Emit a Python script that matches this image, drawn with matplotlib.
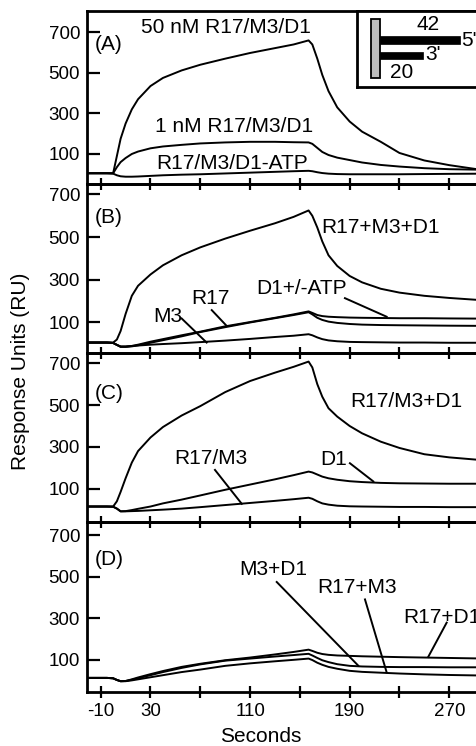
import matplotlib
matplotlib.use('Agg')
import matplotlib.pyplot as plt
from matplotlib.patches import Rectangle

plt.rcParams['font.family'] = ['Liberation Sans', 'DejaVu Sans']

# ---------------- data ----------------
time_s = [-21, -5, 0, 3, 6, 10, 15, 20, 30, 40, 55, 70, 90, 110, 130, 145, 157,
          160, 164, 168, 173, 180, 190, 200, 215, 230, 250, 270, 300]

# Panel A
a_50nM = [5, 5, 5, 90, 175, 250, 320, 370, 435, 475, 512, 540, 570, 598, 622, 640, 660,
          640, 570, 490, 410, 330, 260, 210, 160, 105, 68, 45, 18]
a_1nM = [5, 5, 5, 35, 60, 80, 100, 112, 128, 137, 145, 152, 157, 160, 160, 158, 157,
         150, 130, 110, 95, 82, 70, 58, 46, 38, 30, 25, 22]
a_noATP = [5, 5, 3, -5, -10, -12, -12, -11, -8, -5, -2, 0, 4, 8, 12, 15, 17,
           15, 10, 6, 3, 1, 0, 0, 0, 0, 1, 2, 3]

# Panel B
b_all = [6, 6, 6, 20, 60, 140, 225, 272, 325, 368, 415, 452, 493, 530, 565, 595, 625,
         600, 545, 480, 415, 365, 318, 288, 258, 240, 225, 215, 203]
b_D1 = [6, 6, 4, -5, -14, -14, -10, -4, 10, 22, 40, 57, 82, 102, 122, 138, 152,
        145, 135, 130, 127, 125, 123, 122, 121, 120, 120, 119, 118]
b_R17 = [6, 6, 4, -5, -14, -14, -12, -7, 5, 17, 35, 55, 78, 100, 120, 135, 148,
         138, 122, 112, 104, 98, 93, 90, 88, 87, 86, 85, 84]
b_M3 = [6, 6, 4, -5, -12, -12, -10, -8, -4, -1, 3, 8, 15, 23, 32, 38, 45,
        40, 30, 22, 16, 12, 9, 8, 7, 6, 6, 5, 5]

# Panel C
c_R17M3_D1 = [15, 15, 15, 40, 85, 150, 225, 280, 345, 395, 450, 495, 562, 615, 655, 683, 708,
              680, 600, 540, 485, 445, 400, 365, 325, 295, 265, 250, 235]
c_D1 = [15, 15, 14, 5, -8, -7, -2, 4, 15, 30, 48, 68, 95, 120, 145, 165, 182,
        178, 168, 158, 150, 143, 136, 132, 128, 126, 125, 124, 124]
c_R17M3 = [15, 15, 14, 5, -8, -8, -7, -6, -3, 0, 5, 12, 22, 32, 42, 50, 57,
           52, 40, 30, 24, 19, 16, 15, 14, 13, 13, 12, 12]

# Panel D
d_R17_D1 = [12, 12, 10, 2, -4, -3, 5, 14, 30, 45, 65, 80, 97, 110, 125, 137, 148,
            142, 133, 127, 123, 120, 118, 116, 114, 112, 110, 108, 105]
d_M3_D1 = [12, 12, 10, 2, -4, -3, 3, 10, 25, 40, 60, 77, 95, 105, 115, 122, 128,
           120, 108, 97, 88, 78, 70, 67, 65, 64, 64, 63, 63]
d_R17_M3 = [12, 12, 10, 2, -4, -4, 0, 5, 15, 25, 40, 52, 70, 82, 92, 99, 105,
            98, 85, 75, 65, 56, 46, 41, 37, 33, 29, 26, 23]

x_ticks = [-10, 30, 70, 110, 150, 190, 230, 270]
x_tick_labels = ['-10', '30', '', '110', '', '190', '', '270']
y_ticks = [100, 300, 500, 700]
y_tick_labels = ['100', '300', '500', '700']
panel_names = ['(A)', '(B)', '(C)', '(D)']
inset_lengths = ['42', '20']

# ---------------- layout ----------------
W, H = 476, 746
fig = plt.figure(figsize=(W / 100, H / 100), dpi=100)
left_px, right_px = 87, 486.6
panels_px = [(11, 184), (184, 353), (353, 522), (522, 692)]
ylims = [(-48, 805), (-43, 749), (-59, 749), (-56, 763)]

axes = []
for (top, bot), yl in zip(panels_px, ylims):
    ax = fig.add_axes([left_px / W, 1 - bot / H, (right_px - left_px) / W, (bot - top) / H])
    ax.set_xlim(-21, 300)
    ax.set_ylim(*yl)
    ax.set_xticks(x_ticks)
    ax.set_yticks(y_ticks)
    ax.set_yticklabels(y_tick_labels)
    ax.tick_params(axis='x', direction='inout', length=8.5, width=1.6, labelsize=13.5, pad=4)
    ax.tick_params(axis='y', direction='in', length=9, width=1.6, labelsize=13.5, pad=5)
    for s in ax.spines.values():
        s.set_linewidth(2)
    ax.patch.set_alpha(0)
    axes.append(ax)

for ax in axes[:-1]:
    ax.set_xticklabels([])
axes[-1].set_xticklabels(x_tick_labels)

lw = 1.4
fs = 15
kw = dict(color='black', lw=lw)

# Panel A
ax = axes[0]
ax.plot(time_s, a_50nM, **kw)
ax.plot(time_s, a_1nM, **kw)
ax.plot(time_s, a_noATP, **kw)
ax.text(91, 726, '50 nM R17/M3/D1', ha='center', va='center', fontsize=fs)
ax.text(97, 235, '1 nM R17/M3/D1', ha='center', va='center', fontsize=fs)
ax.text(95.5, 54, 'R17/M3/D1-ATP', ha='center', va='center', fontsize=fs)
ax.text(-14.6, 640, panel_names[0], ha='left', va='center', fontsize=fs)

# Panel B
ax = axes[1]
ax.plot(time_s, b_all, **kw)
ax.plot(time_s, b_D1, **kw)
ax.plot(time_s, b_R17, **kw)
ax.plot(time_s, b_M3, **kw)
ax.text(167.5, 545, 'R17+M3+D1', ha='left', va='center', fontsize=fs)
ax.text(151.4, 261, 'D1+/-ATP', ha='center', va='center', fontsize=fs)
ax.plot([186.2, 219.7], [214, 127], **kw)
ax.text(77.8, 214, 'R17', ha='center', va='center', fontsize=fs)
ax.plot([79.2, 91.2], [158, 84], **kw)
ax.text(43.6, 127, 'M3', ha='center', va='center', fontsize=fs)
ax.plot([55, 75.1], [119, 6], **kw)
ax.text(-14.6, 592, panel_names[1], ha='left', va='center', fontsize=fs)

# Panel C
ax = axes[2]
ax.plot(time_s, c_R17M3_D1, **kw)
ax.plot(time_s, c_D1, **kw)
ax.plot(time_s, c_R17M3, **kw)
ax.text(235.8, 517, 'R17/M3+D1', ha='center', va='center', fontsize=fs)
ax.text(78.4, 246, 'R17/M3', ha='center', va='center', fontsize=fs)
ax.plot([81.8, 103.3], [190, 28], **kw)
ax.text(177.4, 238, 'D1', ha='center', va='center', fontsize=fs)
ax.plot([190.2, 209], [222, 135], **kw)
ax.text(-14.6, 557, panel_names[2], ha='left', va='center', fontsize=fs)

# Panel D
ax = axes[3]
ax.plot(time_s, d_R17_D1, **kw)
ax.plot(time_s, d_M3_D1, **kw)
ax.plot(time_s, d_R17_M3, **kw)
ax.text(128.6, 536, 'M3+D1', ha='center', va='center', fontsize=fs)
ax.plot([131.4, 196.9], [474, 71], **kw)
ax.text(196.3, 447, 'R17+M3', ha='center', va='center', fontsize=fs)
ax.plot([202.3, 219.7], [390, 39], **kw)
ax.text(233, 302, 'R17+D1', ha='left', va='center', fontsize=fs, clip_on=False)
ax.plot([267.9, 253.1], [278, 113], **kw)
ax.text(-14.6, 584, panel_names[3], ha='left', va='center', fontsize=fs)

# Inset schematic (pixel-like coordinates inside its own axes)
ins = fig.add_axes([357 / W, 1 - 87 / H, (500 - 357) / W, 76 / H])
ins.set_xlim(0, 143)
ins.set_ylim(76, 0)
ins.set_xticks([])
ins.set_yticks([])
ins.set_facecolor('white')
for s in ins.spines.values():
    s.set_linewidth(2)
ins.add_patch(Rectangle((14, 8), 9, 59, facecolor='#bdbdbd', edgecolor='black', lw=1.3))
ins.add_patch(Rectangle((23, 25), 80, 8, facecolor='black', edgecolor='black', lw=0.5))
ins.add_patch(Rectangle((23, 41), 43, 7, facecolor='black', edgecolor='black', lw=0.5))
ins.text(71, 14, inset_lengths[0], ha='center', va='center', fontsize=fs)
ins.text(104.5, 29, "5'", ha='left', va='center', fontsize=fs)
ins.text(68, 44, "3'", ha='left', va='center', fontsize=fs)
ins.text(44.7, 61, inset_lengths[1], ha='center', va='center', fontsize=fs)

fig.text(21 / W, 1 - 371.5 / H, 'Response Units (RU)', rotation=90, ha='center', va='center', fontsize=fs)
fig.text(260.7 / W, 1 - 736.7 / H, 'Seconds', ha='center', va='center', fontsize=fs)

fig.savefig('out.png', dpi=100)
